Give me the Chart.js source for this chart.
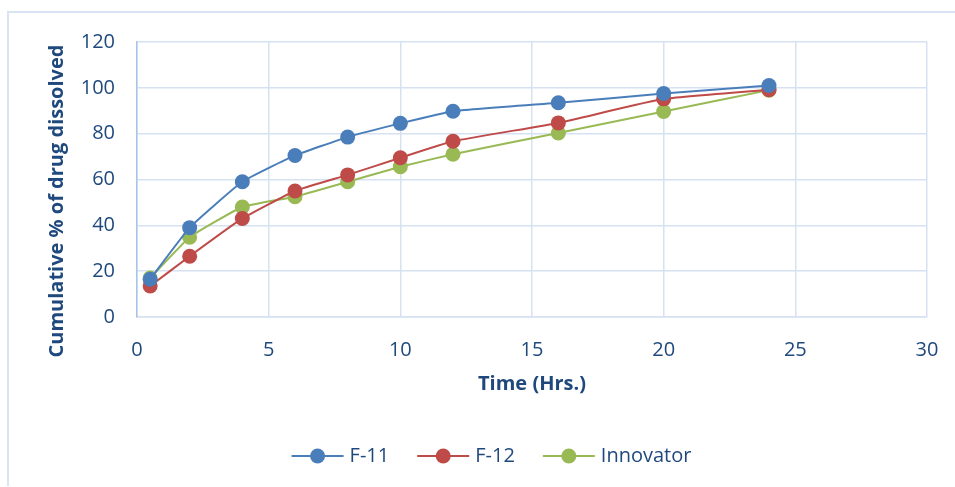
<!DOCTYPE html>
<html>
<head>
<meta charset="utf-8">
<script src="https://cdn.jsdelivr.net/npm/chart.js@4"></script>
<style>
  html, body { margin: 0; padding: 0; background: #fff; }
  #wrap { position: relative; width: 955px; height: 487px; }
</style>
</head>
<body>
<div id="wrap"><canvas id="chart" width="955" height="487"></canvas></div>
<script>
/* ── DATA ───────────────────────────── */
const times = [0.5, 2, 4, 6, 8, 10, 12, 16, 20, 24];
const f11 = [16.5, 39, 59, 70.5, 78.5, 84.5, 89.8, 93.5, 97.5, 101];
const f12 = [13.5, 26.5, 43, 55, 62, 69.5, 76.7, 84.7, 95.2, 99.2];
const innovator = [17, 34.8, 48, 52.5, 59, 65.6, 71, 80.3, 89.7, 99];
const xTicks = [0, 5, 10, 15, 20, 25, 30];
const yTicks = [0, 20, 40, 60, 80, 100, 120];
const yTitle = 'Cumulative % of drug dissolved';

const textColor = '#1F497D';
const gridColor = '#D6E1F1';
const font = "'Open Sans', 'DejaVu Sans', sans-serif";

function pts(ys) {
    return times.map((t, i) => ({ x: t, y: ys[i] }));
}

function series(label, ys, color) {
    return {
        label: label,
        data: pts(ys),
        borderColor: color,
        backgroundColor: color,
        borderWidth: 2,
        pointRadius: 7.5,
        pointHoverRadius: 7.5,
        pointBorderWidth: 0,
        tension: 0.12
    };
}

// frame (left + top only), y title, legend nudge and legend line markers
const decor = {
    id: 'decor',
    afterLayout(chart) {
        const lg = chart.legend;
        if (!lg) return;
        lg.left += 24;
        lg.right += 24;
    },
    beforeDraw(chart) {
        const c = chart.ctx;
        c.save();
        c.strokeStyle = '#D9E3F1';
        c.lineWidth = 2;
        c.beginPath();
        c.moveTo(8, 486);
        c.lineTo(8, 12);
        c.lineTo(955, 12);
        c.stroke();
        c.restore();
    },
    afterDraw(chart) {
        const c = chart.ctx;
        c.save();
        c.translate(57, 201);
        c.rotate(-Math.PI / 2);
        c.fillStyle = textColor;
        c.font = "bold 20px " + font;
        c.textAlign = 'center';
        c.textBaseline = 'middle';
        c.fillText(yTitle, 0, 0);
        c.restore();

        const lg = chart.legend;
        if (!lg || !lg.legendHitBoxes) return;
        c.save();
        lg.legendHitBoxes.forEach((b, i) => {
            const ds = chart.data.datasets[i];
            const y = b.top + b.height / 2;
            c.strokeStyle = ds.borderColor;
            c.lineWidth = 2;
            c.beginPath();
            c.moveTo(b.left, y);
            c.lineTo(b.left + 52, y);
            c.stroke();
            c.fillStyle = ds.backgroundColor;
            c.beginPath();
            c.arc(b.left + 26, y, 7.5, 0, Math.PI * 2);
            c.fill();
        });
        c.restore();
    }
};

new Chart(document.getElementById('chart'), {
    type: 'line',
    data: {
        datasets: [
            series('F-11', f11, '#4A7EBB'),
            series('F-12', f12, '#BE4B48'),
            series('Innovator', innovator, '#98B954')
        ]
    },
    options: {
        responsive: false,
        animation: false,
        layout: { padding: { left: 8, right: 28, top: 42, bottom: 11 } },
        plugins: {
            tooltip: { enabled: false },
            legend: {
                position: 'bottom',
                labels: {
                    color: textColor,
                    font: { family: font, size: 20 },
                    boxWidth: 48,
                    boxHeight: 14,
                    padding: 28,
                    generateLabels(chart) {
                        return chart.data.datasets.map((d, i) => ({
                            text: d.label,
                            fillStyle: 'rgba(0,0,0,0)',
                            strokeStyle: 'rgba(0,0,0,0)',
                            lineWidth: 0,
                            fontColor: textColor,
                            datasetIndex: i
                        }));
                    }
                }
            }
        },
        scales: {
            x: {
                type: 'linear',
                min: 0,
                max: 30,
                afterBuildTicks(s) { s.ticks = xTicks.map(v => ({ value: v })); },
                afterFit(s) { s.height = 101; },
                grid: { color: gridColor, lineWidth: 1.5, drawTicks: true, tickLength: 18, tickColor: 'rgba(0,0,0,0)' },
                border: { color: gridColor, width: 1.5 },
                ticks: { color: textColor, font: { family: font, size: 20 }, padding: 3 },
                title: {
                    display: true,
                    text: 'Time (Hrs.)',
                    color: textColor,
                    font: { family: font, size: 20, weight: 'bold' },
                    padding: { top: 0, bottom: 22 }
                }
            },
            y: {
                min: 0,
                max: 120,
                afterBuildTicks(s) { s.ticks = yTicks.map(v => ({ value: v })); },
                afterFit(s) { s.width = 129; },
                grid: { color: gridColor, lineWidth: 1.5, drawTicks: false },
                border: { color: '#A9C4E8', width: 1.5 },
                ticks: { color: textColor, font: { family: font, size: 20 }, padding: 22 }
            }
        }
    },
    plugins: [decor]
});
</script>
</body>
</html>
